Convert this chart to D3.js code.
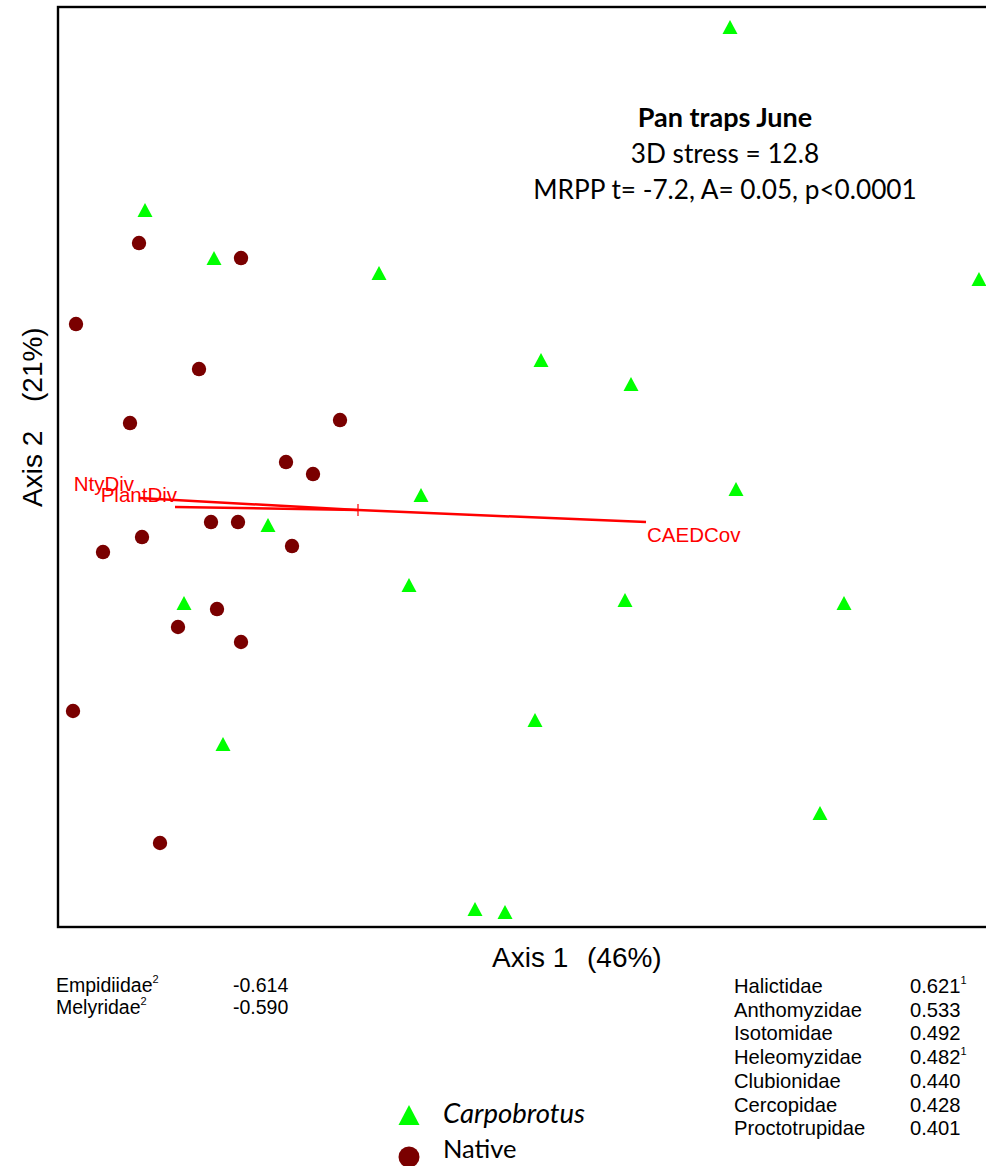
<!DOCTYPE html>
<html>
<head>
<meta charset="utf-8">
<script src="https://cdn.jsdelivr.net/npm/d3@7"></script>
<style>
  body { margin: 0; background: #fff; }
  svg { display: block; }
</style>
</head>
<body>
<script>
// NMS scores (axis units)
const carpoX = [1.24, -0.71, -0.48, 0.07, 2.07, 0.61, 0.91, 0.21, 1.26, -0.30, 0.17, -0.58, 0.89, 1.62, 0.59, -0.45, 1.54, 0.39, 0.49];
const carpoY = [1.61, 1.00, 0.84, 0.79, 0.77, 0.50, 0.42, 0.05, 0.07, -0.05, -0.25, -0.31, -0.30, -0.31, -0.70, -0.78, -1.01, -1.33, -1.34];
const nativeX = [-0.73, -0.39, -0.94, -0.53, -0.76, -0.06, -0.24, -0.15, -0.49, -0.40, -0.85, -0.72, -0.22, -0.47, -0.60, -0.39, -0.95, -0.66];
const nativeY = [0.89, 0.84, 0.62, 0.47, 0.29, 0.30, 0.16, 0.12, -0.04, -0.04, -0.14, -0.09, -0.12, -0.33, -0.39, -0.44, -0.67, -1.11];

// joint plot vectors
const vecNames = ["NtyDiv", "PlantDiv", "CAEDCov"];
const vecX = [-0.73, -0.61, 0.96];
const vecY = [0.04, 0.01, -0.04];

// correlated taxa
const negTaxa = ["Empidiidae", "Melyridae"];
const negR = ["-0.614", "-0.590"];
const negSup = ["2", "2"];
const posTaxa = ["Halictidae", "Anthomyzidae", "Isotomidae", "Heleomyzidae", "Clubionidae", "Cercopidae", "Proctotrupidae"];
const posR = ["0.621", "0.533", "0.492", "0.482", "0.440", "0.428", "0.401"];
const posSup = ["1", "", "", "1", "", "", ""];

const statLines = ["Pan traps June", "3D stress = 12.8", "MRPP t= -7.2, A= 0.05, p<0.0001"];
const groups = ["Carpobrotus", "Native"];

const width = 986;
const height = 1166;
const frame = { left: 58, top: 7, bottom: 927 };
const arial = "'Liberation Sans', Arial, sans-serif";
const calibri = "Lato, 'Open Sans', sans-serif";
const green = "#00ff00";
const maroon = "#7a0000";

const x = d3.scaleLinear().domain([-1, 2.1]).range([frame.left, 988]);
const y = d3.scaleLinear().domain([-1.39, 1.677]).range([frame.bottom, frame.top]);

const svg = d3.select("body").append("svg")
  .attr("width", width)
  .attr("height", height)
  .attr("viewBox", [0, 0, width, height]);

// plot frame (right side runs off the page)
svg.append("rect")
  .attr("x", frame.left)
  .attr("y", frame.top)
  .attr("width", 1000)
  .attr("height", frame.bottom - frame.top)
  .attr("fill", "none")
  .attr("stroke", "#000")
  .attr("stroke-width", 2.4);

const tri = (w, h) => `M0,${-h / 2}L${w / 2},${h / 2}L${-w / 2},${h / 2}Z`;

// vectors
const vecs = vecNames.map((n, i) => ({ name: n, x: vecX[i], y: vecY[i] }));
const labelPos = {
  NtyDiv: { dx: -5, dy: -7, anchor: "end" },
  PlantDiv: { dx: 2, dy: -5, anchor: "end" },
  CAEDCov: { dx: 1, dy: 20, anchor: "start" }
};
const vg = svg.append("g");
vg.selectAll("line")
  .data(vecs)
  .join("line")
  .attr("x1", x(0))
  .attr("y1", y(0))
  .attr("x2", d => x(d.x))
  .attr("y2", d => y(d.y))
  .attr("stroke", "#ff0000")
  .attr("stroke-width", 2.5);
vg.append("path")
  .attr("d", `M${x(0) - 6},${y(0)}H${x(0) + 6}M${x(0)},${y(0) - 6}V${y(0) + 6}`)
  .attr("stroke", "#ff0000")
  .attr("stroke-width", 1.2);
vg.selectAll("text")
  .data(vecs)
  .join("text")
  .attr("x", d => x(d.x) + labelPos[d.name].dx)
  .attr("y", d => y(d.y) + labelPos[d.name].dy)
  .attr("text-anchor", d => labelPos[d.name].anchor)
  .attr("font-family", arial)
  .attr("font-size", 20.5)
  .attr("fill", "#ff0000")
  .text(d => d.name);

// points
const carpo = carpoX.map((v, i) => ({ x: v, y: carpoY[i] }));
const native = nativeX.map((v, i) => ({ x: v, y: nativeY[i] }));

svg.append("g").selectAll("circle")
  .data(native)
  .join("circle")
  .attr("cx", d => x(d.x))
  .attr("cy", d => y(d.y))
  .attr("r", 7.2)
  .attr("fill", maroon);

svg.append("g").selectAll("path")
  .data(carpo)
  .join("path")
  .attr("transform", d => `translate(${x(d.x)},${y(d.y)})`)
  .attr("d", tri(15, 14))
  .attr("fill", green);

// stats block
svg.append("g")
  .selectAll("text")
  .data(statLines)
  .join("text")
  .attr("x", 725)
  .attr("y", (d, i) => 127 + i * 36)
  .attr("text-anchor", "middle")
  .attr("font-family", calibri)
  .attr("font-size", (d, i) => (i === 0 ? 27 : 26.2))
  .attr("font-weight", (d, i) => (i === 0 ? "bold" : "normal"))
  .attr("fill", "#000")
  .text(d => d);

// axis titles
svg.append("text").attr("x", 492).attr("y", 967)
  .attr("font-family", arial).attr("font-size", 28).text("Axis 1");
svg.append("text").attr("x", 587).attr("y", 967)
  .attr("font-family", arial).attr("font-size", 28).text("(46%)");
svg.append("text").attr("transform", "translate(42,507) rotate(-90)")
  .attr("font-family", arial).attr("font-size", 28).text("Axis 2");
svg.append("text").attr("transform", "translate(42,402) rotate(-90)")
  .attr("font-family", arial).attr("font-size", 28).text("(21%)");

// taxa tables
function table(names, vals, sups, nameX, valX, y0, step, fs) {
  const g = svg.append("g")
    .attr("font-family", arial)
    .attr("font-size", fs)
    .attr("fill", "#000");
  names.forEach((n, i) => {
    const yy = y0 + i * step;
    g.append("text").attr("x", nameX).attr("y", yy).text(n);
    const t = g.append("text").attr("x", valX).attr("y", yy).text(vals[i]);
    if (sups[i]) t.append("tspan").attr("dy", -9).attr("font-size", 11).text(sups[i]);
  });
}
function tableNeg() {
  const g = svg.append("g")
    .attr("font-family", arial)
    .attr("font-size", 19.5)
    .attr("fill", "#000");
  negTaxa.forEach((n, i) => {
    const yy = 992 + i * 21.5;
    const t = g.append("text").attr("x", 56).attr("y", yy).text(n);
    t.append("tspan").attr("dy", -9).attr("font-size", 11).text(negSup[i]);
    g.append("text").attr("x", 233).attr("y", yy).text(negR[i]);
  });
}
tableNeg();
table(posTaxa, posR, posSup, 734, 910, 993, 23.7, 20.2);

// legend
const lg = svg.append("g");
lg.append("path")
  .attr("transform", "translate(409,1115)")
  .attr("d", tri(21, 20))
  .attr("fill", green);
lg.append("circle")
  .attr("cx", 409)
  .attr("cy", 1157)
  .attr("r", 10.5)
  .attr("fill", maroon);
lg.selectAll("text")
  .data(groups)
  .join("text")
  .attr("x", 443)
  .attr("y", (d, i) => 1123 + i * 35)
  .attr("font-family", calibri)
  .attr("font-size", (d, i) => (i === 0 ? 27.5 : 25.5))
  .attr("font-style", (d, i) => (i === 0 ? "italic" : "normal"))
  .text(d => d);
</script>
</body>
</html>
